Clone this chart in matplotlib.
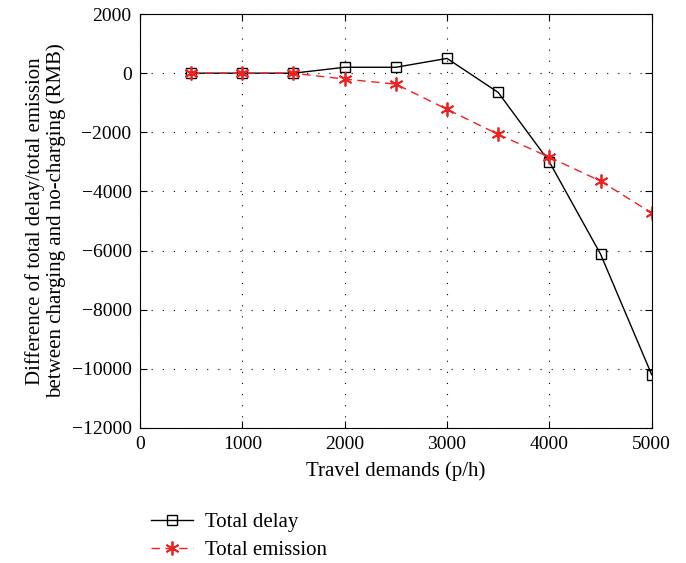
import matplotlib
matplotlib.use("Agg")
from matplotlib import pyplot as plt

demands = [500, 1000, 1500, 2000, 2500, 3000, 3500, 4000, 4500, 5000]
total_delay = [0, 0, 0, 200, 200, 500, -650, -3000, -6120, -10200]
total_emission = [0, 0, 0, -200, -370, -1220, -2070, -2840, -3650, -4730]

plt.rcParams['font.family'] = ['Liberation Serif', 'DejaVu Serif']

fig = plt.figure(figsize=(6.86, 5.63), dpi=100)
ax = fig.add_axes([0.204, 0.240, 0.746, 0.735])

ax.plot(demands, total_delay, color='black', lw=1.0, marker='s', ms=7,
        mfc='none', mec='black', mew=1.0, label='Total delay')
ax.plot(demands, total_emission, color='#ee2222', lw=1.0, ls=(0, (6, 4)), marker=(6, 2, 0),
        ms=10, mfc='#ee2222', mec='#ee2222', mew=1.3, label='Total emission')

ax.set_xlim(0, 5000)
ax.set_ylim(-12000, 2000)
ax.set_xticks(range(0, 5001, 1000))
ax.set_yticks(range(-12000, 2001, 2000))
ax.tick_params(direction='in', top=True, right=True, labelsize=14, length=5, pad=6)
ax.grid(True, color='black', ls=(0, (1, 9)), lw=0.8)

ax.set_xlabel('Travel demands (p/h)', fontsize=15, labelpad=6)
ax.set_ylabel('Difference of total delay/total emission\nbetween charging and no-charging (RMB)',
              fontsize=15, labelpad=4, linespacing=1.1)

ax.legend(loc='upper left', bbox_to_anchor=(-0.015, -0.16), frameon=False, fontsize=15,
          handlelength=2.0, labelspacing=0.4, handletextpad=0.6)

fig.savefig('out.png', dpi=100)
